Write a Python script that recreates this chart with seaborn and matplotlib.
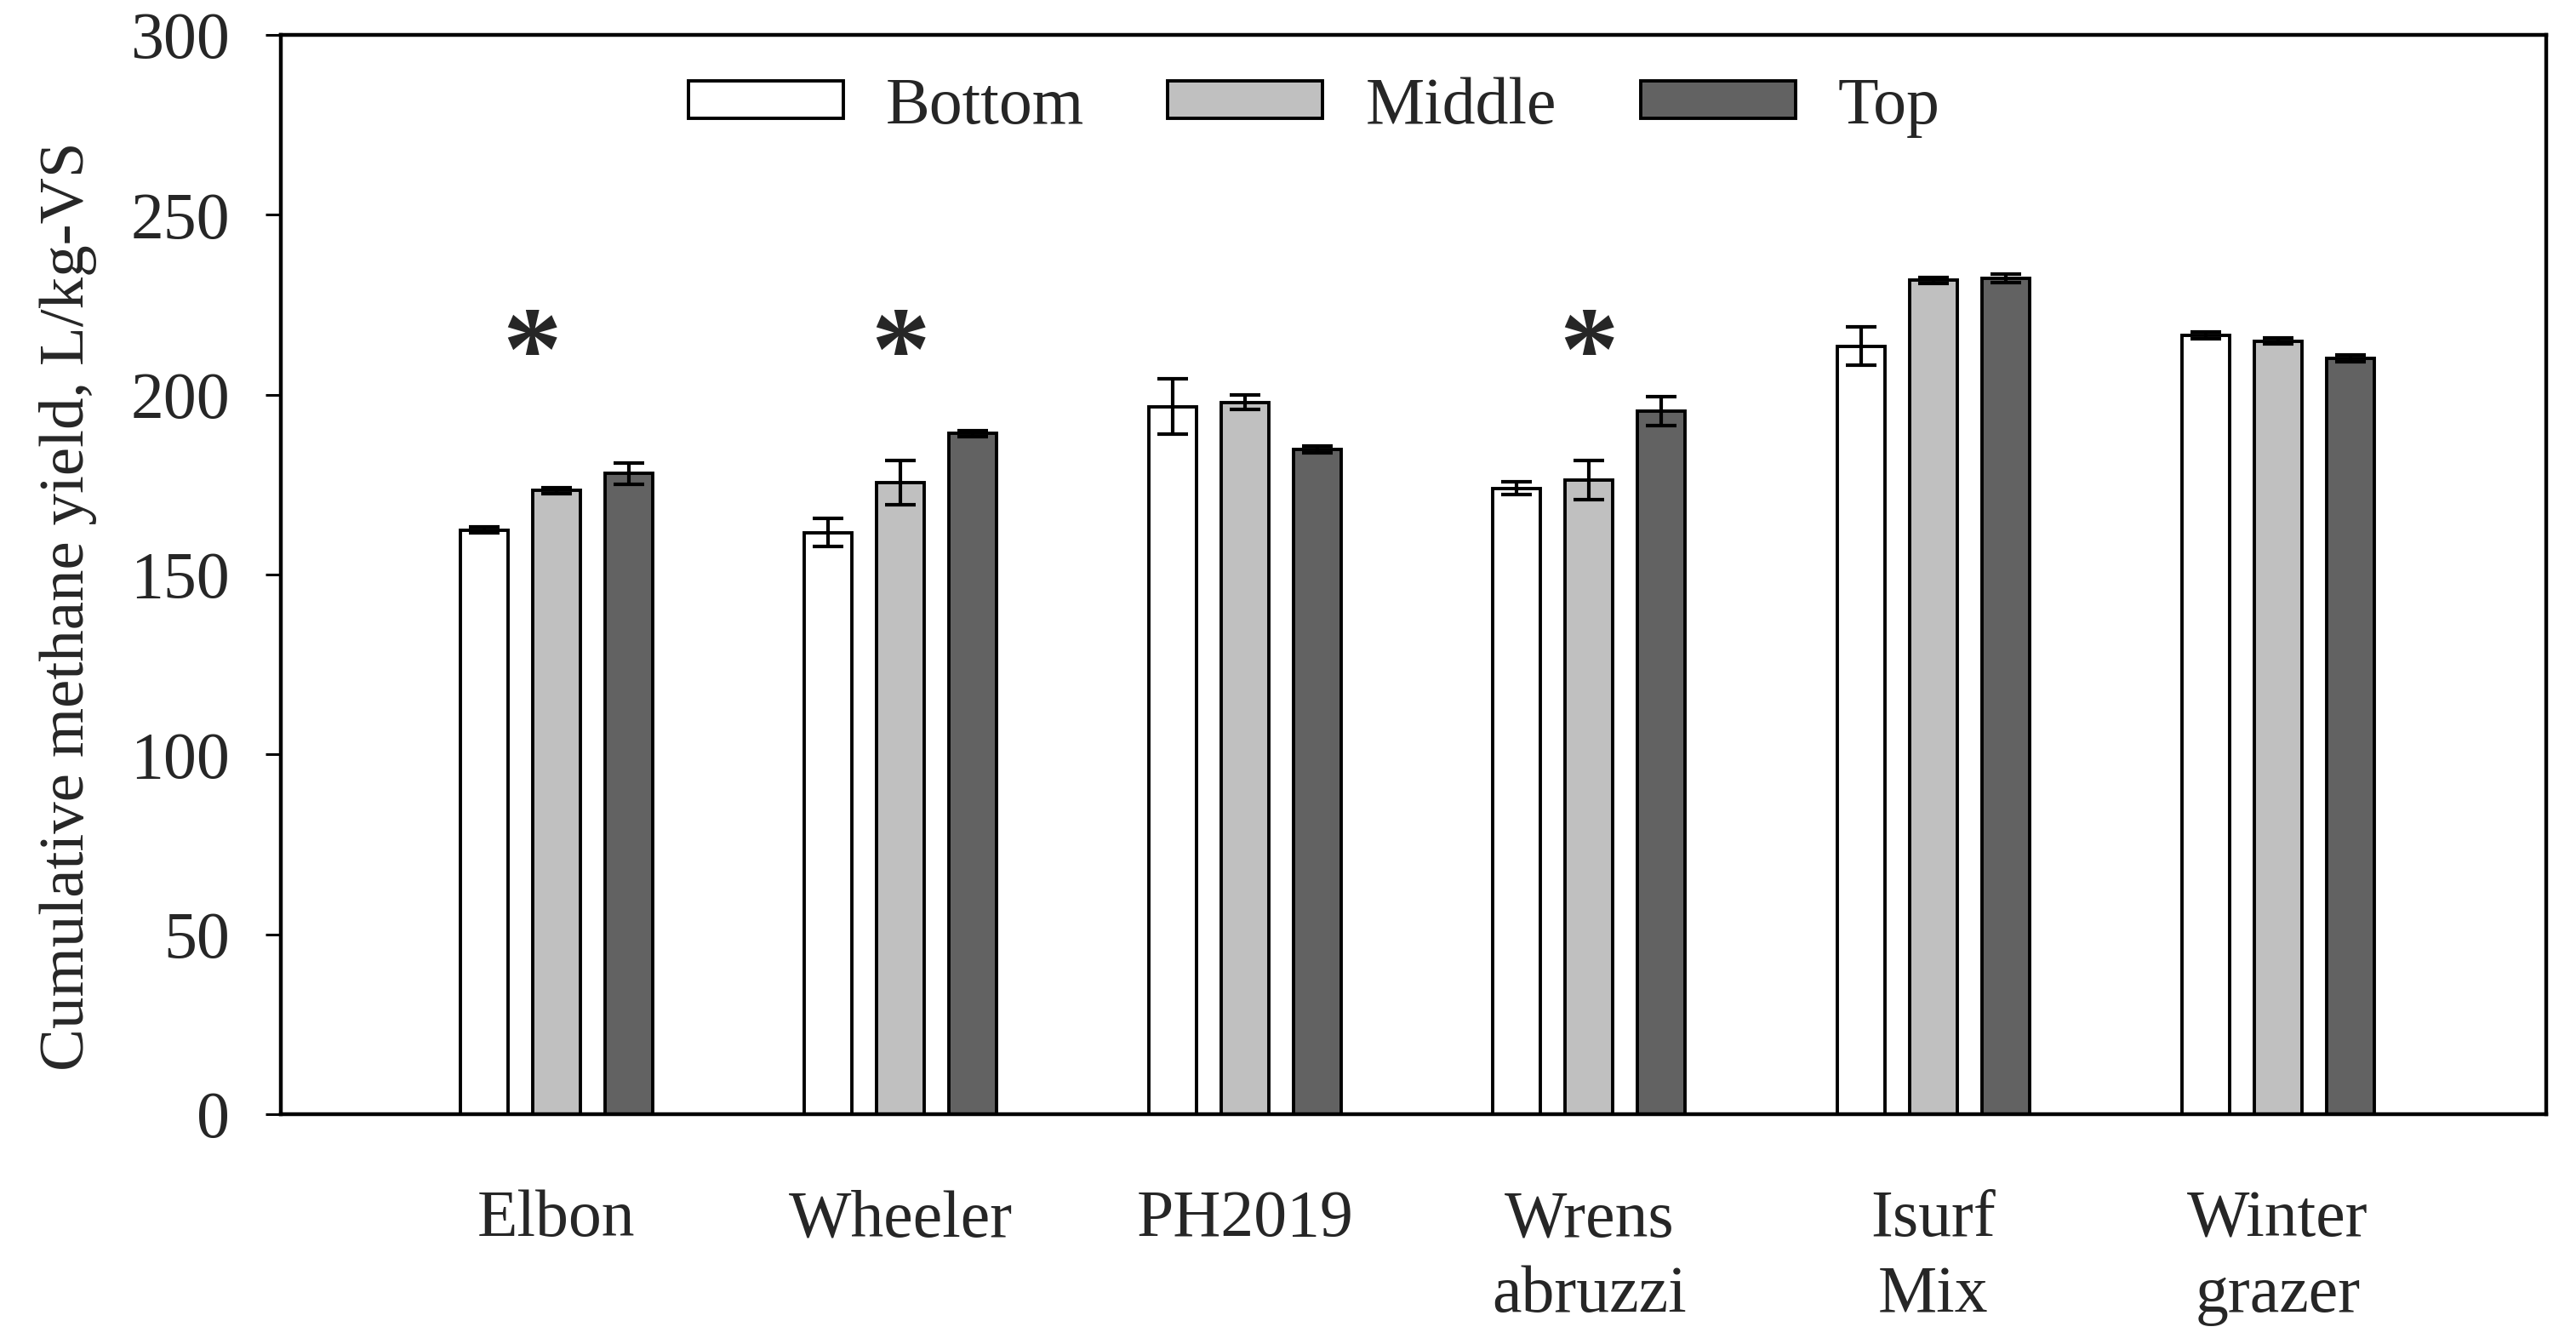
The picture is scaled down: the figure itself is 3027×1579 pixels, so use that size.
import numpy as np
import pandas as pd
import matplotlib
matplotlib.use("Agg")
import matplotlib.pyplot as plt
from matplotlib.patches import Patch
import seaborn as sns

# data
cultivars = ["Elbon", "Wheeler", "PH2019", "Wrens\nabruzzi", "Isurf\nMix", "Winter\ngrazer"]
positions = ["Bottom", "Middle", "Top"]
bottom_mean = [162.4, 161.7, 196.7, 174.0, 213.5, 216.5]
middle_mean = [173.4, 175.5, 197.9, 176.3, 231.8, 214.9]
top_mean = [178.1, 189.2, 184.8, 195.5, 232.4, 210.1]
bottom_err = [0.8, 4.0, 7.7, 1.7, 5.4, 0.9]
middle_err = [0.8, 6.2, 2.0, 5.5, 0.8, 0.8]
top_err = [3.0, 0.8, 0.9, 4.0, 1.2, 0.9]
significant = ["Elbon", "Wheeler", "Wrens\nabruzzi"]

colors = ["#FFFFFF", "#C0C0C0", "#626262"]

df = pd.DataFrame({
    "cultivar": cultivars * 3,
    "position": np.repeat(positions, len(cultivars)),
    "yield": bottom_mean + middle_mean + top_mean,
})
errs = [bottom_err, middle_err, top_err]

sns.set_style("white")
plt.rcParams["font.family"] = ["Liberation Serif", "DejaVu Serif"]

fig = plt.figure(figsize=(30.27, 15.79), dpi=100)
ax = fig.add_axes([0.109, 0.171, 0.8795, 0.803])

sns.barplot(data=df, x="cultivar", y="yield", hue="position",
            order=cultivars, hue_order=positions, palette=colors,
            errorbar=None, width=0.63, gap=0.34, edgecolor="black",
            linewidth=2.8, saturation=1, legend=False, ax=ax)

# error bars on each bar
for cont, err in zip(ax.containers, errs):
    xs = [p.get_x() + p.get_width() / 2 for p in cont.patches]
    ys = [p.get_height() for p in cont.patches]
    ax.errorbar(xs, ys, yerr=err, fmt="none", ecolor="black",
                elinewidth=3, capsize=13.3, capthick=3, zorder=5)

# significance stars (the Elbon one sits a bit left in the original)
for name in significant:
    i = cultivars.index(name)
    shift = -0.07 if name == "Elbon" else 0
    ax.text(i + shift, 201.5, "*", ha="center", va="baseline", fontsize=100,
            fontweight="bold")

ax.set_xlim(-0.8, 5.78)
ax.set_ylim(0, 300)
ax.set_yticks(range(0, 301, 50))
ax.set_xlabel("")
ax.set_ylabel("Cumulative methane yield, L/kg-VS", fontsize=54)
ax.yaxis.set_label_coords(-0.081, 0.471)

ax.tick_params(axis="y", direction="out", length=13, width=2.2, pad=30,
               labelsize=56, left=True, color="black")
ax.tick_params(axis="x", length=0, pad=64, labelsize=56)
for lab in ax.get_xticklabels():
    lab.set_linespacing(1.32)

for sp in ax.spines.values():
    sp.set_visible(True)
    sp.set_color("black")
    sp.set_linewidth(3.2)

handles = [Patch(facecolor=c, edgecolor="black", linewidth=2.8) for c in colors]
ax.legend(handles, positions, ncol=3, frameon=False, fontsize=56,
          loc="center", bbox_to_anchor=(0.456, 0.933),
          handlelength=2.34, handleheight=0.48, handletextpad=0.64,
          columnspacing=1.27)

fig.savefig("out.png", dpi=100)
